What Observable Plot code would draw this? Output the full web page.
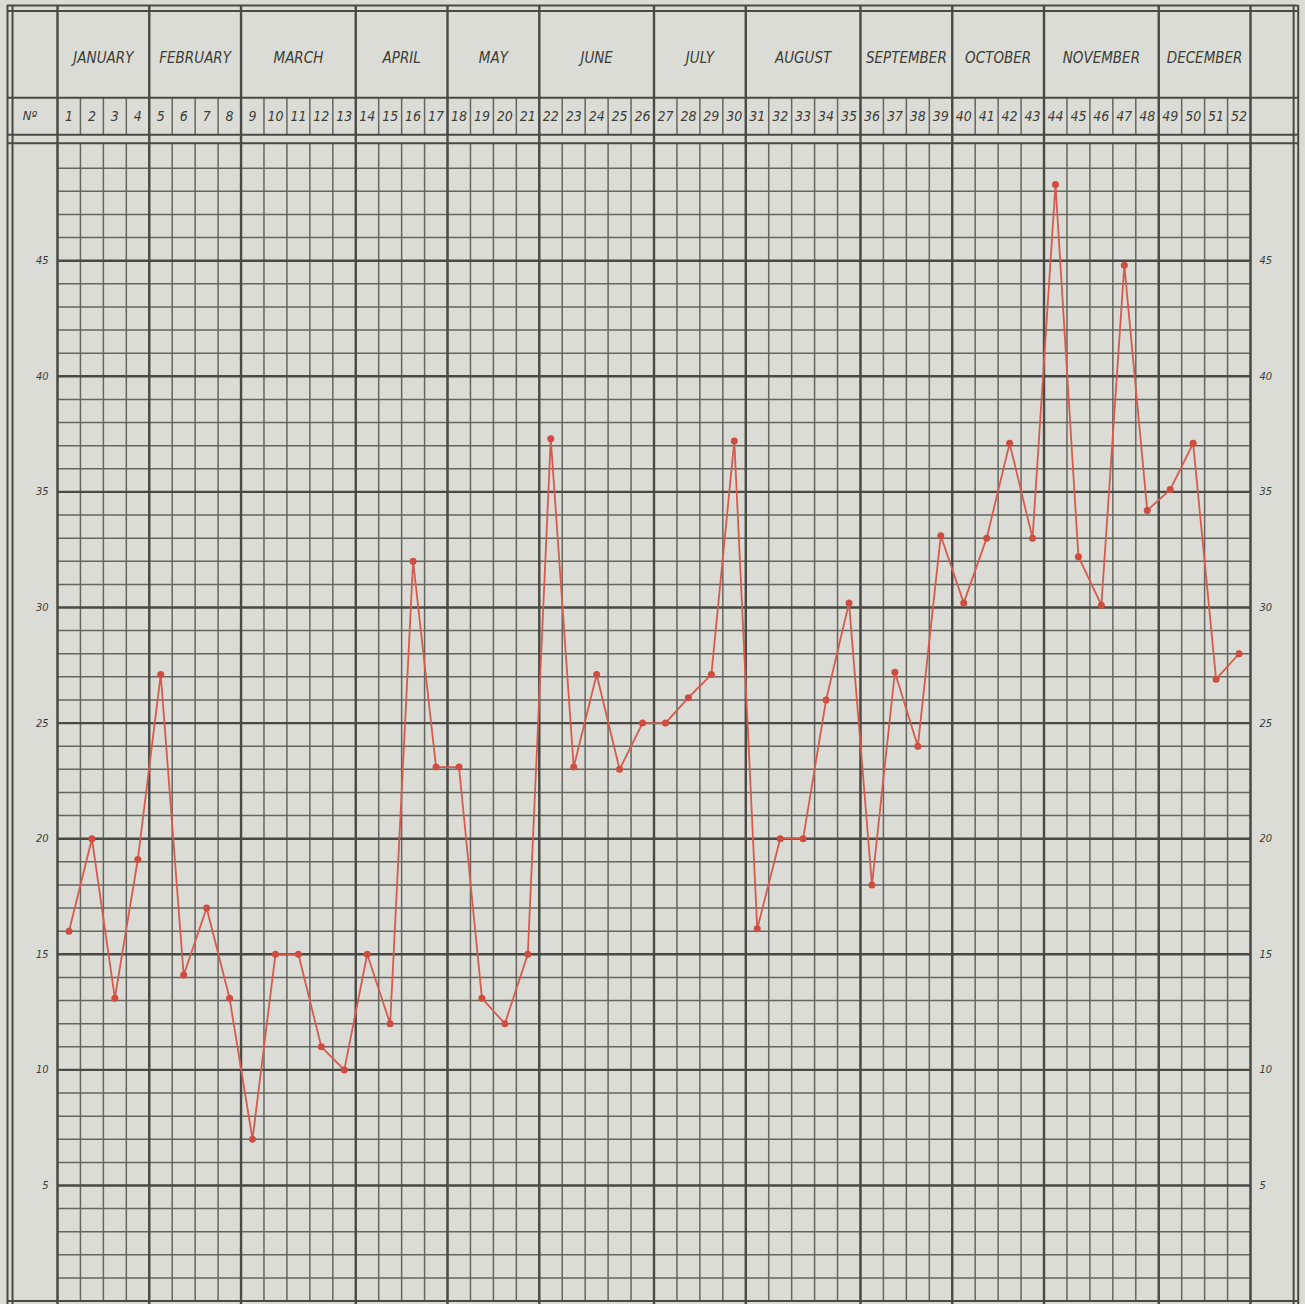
<!DOCTYPE html>
<html>
<head>
<meta charset="utf-8">
<script src="https://cdn.jsdelivr.net/npm/d3@7"></script>
<script src="https://cdn.jsdelivr.net/npm/@observablehq/plot@0.6"></script>
<style>
html, body { margin: 0; padding: 0; background: #dbdcd5; }
#chart svg { display: block; }
</style>
</head>
<body>
<div id="chart"></div>
<script>
// ---- data ----
const weeks = d3.range(1, 53);
const values = [
  16, 20, 13.1, 19.1, 27.1, 14.1, 17, 13.1, 7, 15, 15, 11, 10,
  15, 12, 32, 23.1, 23.1, 13.1, 12, 15,
  37.3, 23.1, 27.1, 23, 25,
  25, 26.1, 27.1, 37.2,
  16.1, 20, 20, 26, 30.2,
  18, 27.2, 24, 33.1,
  30.2, 33, 37.1, 33,
  48.3, 32.2, 30.1, 44.8, 34.2,
  35.1, 37.1, 26.9, 28
];
const months = ["JANUARY", "FEBRUARY", "MARCH", "APRIL", "MAY", "JUNE",
  "JULY", "AUGUST", "SEPTEMBER", "OCTOBER", "NOVEMBER", "DECEMBER"];
const monthWeekCounts = [4, 4, 5, 4, 4, 5, 4, 5, 4, 4, 5, 4];
const yTicks = [5, 10, 15, 20, 25, 30, 35, 40, 45];
const numberHeader = "Nº";

// ---- derived tables ----
const table = weeks.map((w, i) => ({week: w, value: values[i]}));
let acc = 0.5;
const monthSpans = months.map((name, i) => {
  const x1 = acc; acc += monthWeekCounts[i];
  return {name, x1, x2: acc, xm: (x1 + acc) / 2};
});
const monthBounds = [0.5, ...monthSpans.map(d => d.x2)];
const weekBounds = d3.range(0.5, 53, 1);
const minorY = d3.range(1, 50).filter(v => v % 5 !== 0);
const majorY = d3.range(5, 50, 5);

// ---- layout (scale units, extrapolated into the header / side columns) ----
const TOP1 = 56.04, TOP2 = 55.80;
const MONTH_Y = 53.75;
const ROW_SPLIT = 52.05;
const NUM_Y = 51.25;
const HEAD_B1 = 50.45, HEAD_B2 = 50.08;
const OUT_L1 = -1.68, OUT_L2 = -1.46, OUT_R1 = 54.38, OUT_R2 = 54.58;
const BOTTOM = -0.3;

const ink = "#3c3c38";
const minorInk = "#66665f";
const majorInk = "#4a4a45";
const red = "#d65a4e";

const chart = Plot.plot({
  width: 1305,
  height: 1304,
  marginLeft: 57,
  marginRight: 55,
  marginTop: 144.6,
  marginBottom: 3.4,
  style: {background: "#dbdcd5", fontFamily: "DejaVu Sans Condensed, DejaVu Sans, sans-serif", color: ink},
  x: {domain: [0.5, 52.5], axis: null},
  y: {domain: [0, 50], axis: null},
  marks: [
    // minor grid
    Plot.ruleY(minorY, {x1: 0.5, x2: 52.5, stroke: minorInk, strokeWidth: 1.5}),
    Plot.ruleX(weekBounds, {y1: 0, y2: HEAD_B2, stroke: minorInk, strokeWidth: 1.5}),
    Plot.ruleX(weekBounds, {y1: HEAD_B1, y2: ROW_SPLIT, stroke: minorInk, strokeWidth: 1.5}),
    // major grid
    Plot.ruleY(majorY, {x1: 0.5, x2: 52.5, stroke: majorInk, strokeWidth: 2.4}),
    Plot.ruleX(monthBounds, {y1: BOTTOM, y2: TOP1, stroke: majorInk, strokeWidth: 2.4}),
    // header and frame lines
    Plot.ruleY([TOP1, TOP2, ROW_SPLIT, HEAD_B1, HEAD_B2, 0], {x1: OUT_L1, x2: OUT_R2, stroke: majorInk, strokeWidth: 2}),
    Plot.ruleX([OUT_L1, OUT_L2, OUT_R1, OUT_R2], {y1: BOTTOM, y2: TOP1, stroke: majorInk, strokeWidth: 2}),
    // header text
    Plot.text(monthSpans, {x: "xm", y: () => MONTH_Y, text: "name", fontSize: 15, fontStyle: "italic", fill: ink}),
    Plot.text(weeks, {x: d => d, y: () => NUM_Y, text: d => String(d), fontSize: 14, fontStyle: "italic", fill: ink}),
    Plot.text([numberHeader], {x: () => -0.7, y: () => NUM_Y, text: d => d, fontSize: 13, fontStyle: "italic", fill: ink}),
    // y axes on both sides
    Plot.axisY(yTicks, {anchor: "left", label: null, tickSize: 0, tickPadding: 9, fontSize: 11, fontStyle: "italic", fill: ink}),
    Plot.axisY(yTicks, {anchor: "right", label: null, tickSize: 0, tickPadding: 9, fontSize: 11, fontStyle: "italic", fill: ink}),
    // data
    Plot.line(table, {x: "week", y: "value", stroke: red, strokeWidth: 1.8}),
    Plot.dot(table, {x: "week", y: "value", r: 3.5, fill: "#cf4c41", stroke: "none"})
  ]
});
document.getElementById("chart").appendChild(chart);
</script>
</body>
</html>
